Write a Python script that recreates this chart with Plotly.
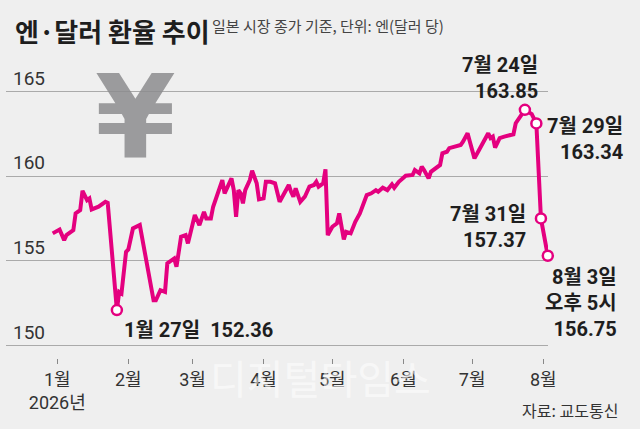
import pandas as pd
import plotly.graph_objects as go

# 엔/달러 종가 (일본 시장)
dates = ["2025-12-30", "2026-01-02", "2026-01-04", "2026-01-05", "2026-01-08", "2026-01-09",
         "2026-01-11", "2026-01-12", "2026-01-14", "2026-01-15", "2026-01-16", "2026-01-19",
         "2026-01-22", "2026-01-23", "2026-01-27", "2026-01-28", "2026-01-29", "2026-01-31",
         "2026-02-01", "2026-02-03", "2026-02-06", "2026-02-12", "2026-02-13", "2026-02-15",
         "2026-02-17", "2026-02-18", "2026-02-21", "2026-02-22", "2026-02-24", "2026-02-26",
         "2026-02-27", "2026-03-01", "2026-03-02", "2026-03-04", "2026-03-06", "2026-03-07",
         "2026-03-09", "2026-03-10", "2026-03-12", "2026-03-14", "2026-03-15", "2026-03-17",
         "2026-03-18", "2026-03-19", "2026-03-20", "2026-03-21", "2026-03-22", "2026-03-23",
         "2026-03-24", "2026-03-26", "2026-03-27", "2026-03-29", "2026-03-30", "2026-04-01",
         "2026-04-02", "2026-04-04", "2026-04-06", "2026-04-08", "2026-04-10", "2026-04-12",
         "2026-04-13", "2026-04-14", "2026-04-15", "2026-04-17", "2026-04-19", "2026-04-21",
         "2026-04-23", "2026-04-24", "2026-04-25", "2026-04-27", "2026-04-28", "2026-04-29",
         "2026-05-01", "2026-05-03", "2026-05-04", "2026-05-06", "2026-05-07", "2026-05-09",
         "2026-05-11", "2026-05-13", "2026-05-16", "2026-05-18", "2026-05-20", "2026-05-21",
         "2026-05-23", "2026-05-25", "2026-05-27", "2026-05-28", "2026-05-30", "2026-06-02",
         "2026-06-05", "2026-06-06", "2026-06-08", "2026-06-09", "2026-06-10", "2026-06-12",
         "2026-06-13", "2026-06-15", "2026-06-17", "2026-06-18", "2026-06-20", "2026-06-21",
         "2026-06-23", "2026-06-26", "2026-06-27", "2026-06-29", "2026-06-30", "2026-07-02",
         "2026-07-04", "2026-07-06", "2026-07-08", "2026-07-09", "2026-07-10", "2026-07-11",
         "2026-07-13", "2026-07-15", "2026-07-17", "2026-07-19", "2026-07-20", "2026-07-22",
         "2026-07-24", "2026-07-27", "2026-07-29", "2026-07-31", "2026-08-03"]
rates = [156.62, 156.85, 156.22, 156.52, 156.81, 157.80,
         157.99, 159.13, 158.58, 158.68, 158.03, 158.19,
         158.48, 158.42, 152.10, 153.17, 153.08, 155.53,
         155.67, 156.91, 157.11, 152.68, 152.68, 153.27,
         153.17, 154.85, 155.14, 154.65, 156.42, 156.52,
         156.03, 157.21, 157.70, 157.11, 157.89, 157.50,
         157.50, 158.19, 159.07, 159.76, 158.98, 159.57,
         159.86, 159.17, 157.60, 159.17, 158.98, 158.39,
         159.17, 159.76, 160.31, 159.57, 158.62, 158.68,
         159.66, 159.66, 159.57, 158.48, 158.98, 159.47,
         159.07, 158.78, 159.27, 158.48, 158.78, 159.37,
         159.47, 159.66, 159.37, 159.57, 160.40, 156.52,
         157.01, 157.21, 157.80, 156.26, 156.71, 156.62,
         157.30, 157.80, 158.88, 158.98, 159.17, 159.07,
         159.31, 159.17, 159.51, 159.31, 159.66, 160.02,
         160.06, 160.35, 160.16, 160.55, 160.35, 159.86,
         160.25, 160.45, 160.65, 161.34, 161.43, 161.64,
         161.73, 161.83, 162.02, 162.52, 162.02, 161.04,
         161.53, 162.02, 162.52, 162.23, 162.32, 161.67,
         162.23, 162.32, 162.38, 162.46, 163.11, 163.50,
         163.90, 163.65, 163.10, 157.50, 155.30]

marker_dates = ["2026-01-27", "2026-07-24", "2026-07-29", "2026-07-31", "2026-08-03"]

month_ticks = ["2026-01-01", "2026-02-01", "2026-03-01", "2026-04-01",
               "2026-05-01", "2026-06-01", "2026-07-01", "2026-08-01"]
month_labels = ["1월<br>2026년", "2월", "3월", "4월", "5월", "6월", "7월", "8월"]
y_ticks = [150, 155, 160, 165]

df = pd.DataFrame({"date": pd.to_datetime(dates), "rate": rates})
mk = df[df["date"].isin(pd.to_datetime(marker_dates))]

BG = "#efefef"
PINK = "#e4007f"
NUM = "Roboto, 'Noto Sans CJK KR', sans-serif"
KR = "'Noto Sans CJK KR', sans-serif"

fig = go.Figure()
fig.add_trace(go.Scatter(x=df["date"], y=df["rate"], mode="lines",
                         line=dict(color=PINK, width=4), cliponaxis=False, hoverinfo="skip"))
fig.add_trace(go.Scatter(x=mk["date"], y=mk["rate"], mode="markers", cliponaxis=False,
                         marker=dict(size=10, color="white", line=dict(color=PINK, width=2.5))))

TOP, BOT = 63.5, 358

def px(x, y):
    # pixel position -> paper coords of plot area
    return (x - 6) / 542, (BOT - y) / (BOT - TOP)

annos = []
def add_text(text, x, y, size, color="#1e1e1e", xanchor="left", align="left", family=NUM, **kw):
    ax, ay = px(x, y)
    annos.append(dict(text=text, x=ax, y=ay, xref="paper", yref="paper", showarrow=False,
                      xanchor=xanchor, yanchor="middle", align=align,
                      font=dict(size=size, color=color, family=family), **kw))

add_text("<b>엔·달러 환율 추이</b>", 13, 30, 26, family=KR)
add_text("일본 시장 종가 기준, 단위: 엔(달러 당)", 210, 25, 15, color="#444444", family=KR)
add_text("<b>¥</b>", 135, 117, 116, color="rgba(140,140,142,0.85)", xanchor="center",
         family="'DejaVu Sans', sans-serif")
add_text("디지털타임스", 320, 377, 40, color="rgba(255,255,255,0.55)", xanchor="center", family=KR)
add_text("<b>7월 24일<br>163.85</b>", 540, 78, 20, xanchor="right", align="right")
add_text("<b>7월 29일<br>163.34</b>", 625, 139, 20, xanchor="right", align="right")
add_text("<b>7월 31일<br>157.37</b>", 528, 227, 20, xanchor="right", align="right")
add_text("<b>8월 3일<br>오후 5시<br>156.75</b>", 619, 303, 20, xanchor="right", align="right")
add_text("<b>1월 27일  152.36</b>", 122, 330, 20)
add_text("자료: 교도통신", 620, 410, 16, color="#333333", xanchor="right", align="right", family=KR)

x0, y0 = px(465, 97)
x1, y1 = px(550, 85)

fig.update_layout(
    width=640, height=429,
    margin=dict(l=6, r=92, t=TOP, b=429 - BOT),
    paper_bgcolor=BG, plot_bgcolor=BG,
    showlegend=False,
    annotations=annos,
    shapes=[dict(type="rect", xref="paper", yref="paper", x0=x0, x1=x1, y0=y0, y1=y1,
                 fillcolor=BG, line=dict(width=0), layer="between")],
    xaxis=dict(type="date", range=["2025-12-09 15:00", "2026-08-03 02:00"],
               anchor="free", position=0,
               showgrid=False, zeroline=False, showline=False,
               tickvals=month_ticks, ticktext=month_labels,
               ticks="outside", ticklen=5, tickwidth=1, tickcolor="#888888",
               tickfont=dict(size=18, color="#333333", family=NUM)),
    yaxis=dict(range=[149.9, 166.6], domain=[(BOT - 347.4) / (BOT - TOP), 1],
               tickvals=y_ticks, showgrid=True, gridcolor="#aaaaaa", gridwidth=1,
               zeroline=False, showline=False, ticks="",
               ticklabelposition="inside top", ticklabelstandoff=4,
               tickfont=dict(size=19, color="#333333", family=NUM)),
)

fig.write_html("out.html", config={"displayModeBar": False},
               post_script="document.body.style.margin='0';")
